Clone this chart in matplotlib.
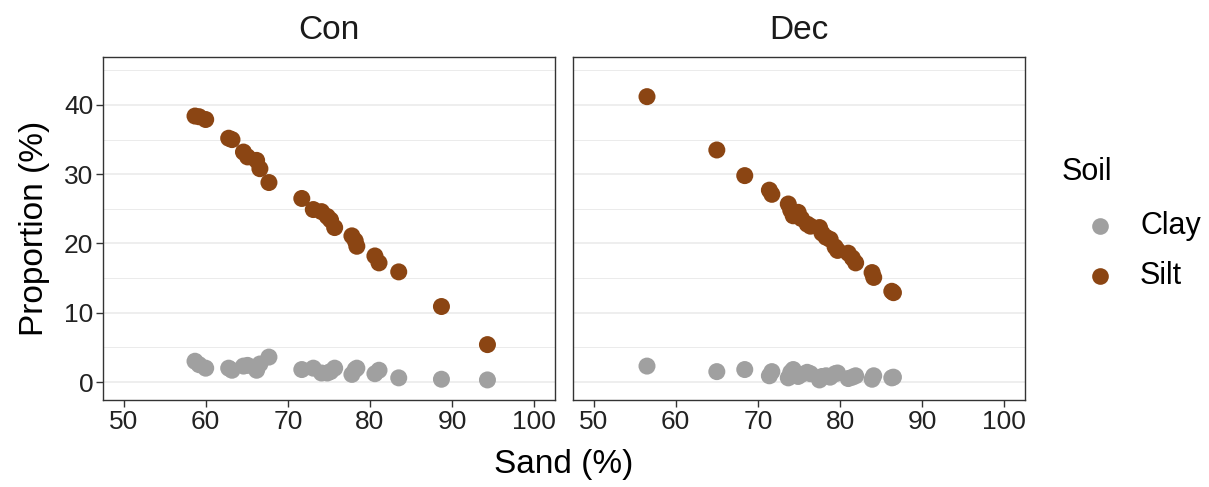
import matplotlib
matplotlib.use("Agg")
import matplotlib.pyplot as plt
from matplotlib.lines import Line2D

plt.rcParams['font.family'] = ['Liberation Sans', 'DejaVu Sans']

# sand, silt and clay content (%) per sample, by site
con_sand = [58.7, 59.2, 60.0, 62.8, 63.2, 64.6, 65.1, 66.2, 66.6, 67.7,
            71.7, 73.1, 74.1, 74.8, 75.2, 75.7, 77.8, 78.2, 78.4, 80.6,
            81.1, 83.5, 88.7, 94.3]
con_silt = [38.4, 38.3, 37.9, 35.2, 35.0, 33.2, 32.5, 32.0, 30.8, 28.8,
            26.5, 24.9, 24.6, 23.9, 23.4, 22.3, 21.1, 20.4, 19.6, 18.2,
            17.2, 15.9, 10.9, 5.4]
con_clay = [3.0, 2.5, 2.0, 2.0, 1.7, 2.3, 2.4, 1.7, 2.6, 3.6,
            1.8, 2.0, 1.3, 1.3, 1.5, 2.0, 1.1, 1.8, 2.0, 1.2,
            1.7, 0.6, 0.4, 0.3]

dec_sand = [56.5, 65.0, 68.4, 71.4, 71.7, 73.7, 74.0, 74.3, 74.9, 75.3,
            76.0, 76.4, 77.5, 77.8, 78.3, 78.8, 79.4, 79.7, 81.0, 81.5,
            81.9, 83.9, 84.1, 86.3, 86.5]
dec_silt = [41.2, 33.5, 29.8, 27.7, 27.1, 25.7, 24.8, 24.0, 24.5, 23.6,
            22.8, 22.5, 22.3, 21.5, 20.9, 20.6, 19.5, 19.0, 18.6, 17.9,
            17.2, 15.8, 15.1, 13.1, 12.9]
dec_clay = [2.3, 1.5, 1.8, 0.9, 1.5, 0.6, 1.4, 1.8, 0.8, 1.1,
            1.4, 1.2, 0.3, 0.8, 0.9, 0.7, 1.2, 1.3, 0.5, 0.7,
            0.9, 0.4, 0.9, 0.6, 0.7]

sites = ['Con', 'Dec']
site_data = {
    'Con': (con_sand, con_silt, con_clay),
    'Dec': (dec_sand, dec_silt, dec_clay),
}
soil_labels = ['Clay', 'Silt']
soil_colors = {'Clay': '#a0a0a0', 'Silt': '#8b4513'}

x_ticks = [50, 60, 70, 80, 90, 100]
y_ticks = [0, 10, 20, 30, 40]
y_minor = [5, 15, 25, 35, 45]

W, H = 1209, 487
fig = plt.figure(figsize=(W / 100, H / 100), dpi=100)
panel_w = 0.3737
panel_h = 0.704
lefts = [0.0852, 0.474]
bottom = 0.1786

marker_size = 150
axes = []
for i, site in enumerate(sites):
    ax = fig.add_axes([lefts[i], bottom, panel_w, panel_h])
    sand, silt, clay = site_data[site]
    ax.scatter(sand, clay, s=marker_size, color=soil_colors['Clay'],
               edgecolors='none', zorder=3)
    ax.scatter(sand, silt, s=marker_size, color=soil_colors['Silt'],
               edgecolors='none', zorder=3)

    ax.set_xlim(47.5, 102.5)
    ax.set_ylim(-2.6, 46.9)
    ax.set_xticks(x_ticks)
    ax.set_yticks(y_ticks)
    for v in y_ticks:
        ax.axhline(v, color='#ebebeb', lw=1.2, zorder=1)
    for v in y_minor:
        ax.axhline(v, color='#ebebeb', lw=0.7, zorder=1)

    for sp in ax.spines.values():
        sp.set_color('#333333')
        sp.set_linewidth(1.0)
    ax.tick_params(axis='both', color='#333333', length=5, width=1.0,
                   labelsize=19, labelcolor='#222222', pad=2)
    if i > 0:
        ax.tick_params(axis='y', labelleft=False, length=0)
    ax.set_title(site, fontsize=24, color='#1a1a1a', pad=13)
    axes.append(ax)

axes[0].set_ylabel('Proportion (%)', fontsize=24, labelpad=10)
fig.text((lefts[0] + lefts[1] + panel_w) / 2, 0.015, 'Sand (%)',
         ha='center', va='bottom', fontsize=24)

# legend drawn by hand in figure coordinates
fig.text(1062 / W, 1 - 172 / H, 'Soil', fontsize=22, ha='left', va='center')
for k, s in enumerate(soil_labels):
    y = 1 - (226 + 50 * k) / H
    fig.add_artist(Line2D([1100 / W], [y], transform=fig.transFigure,
                          marker='o', linestyle='none', markersize=12,
                          markerfacecolor=soil_colors[s],
                          markeredgecolor='none'))
    fig.text(1140 / W, y, s, fontsize=22, ha='left', va='center')

fig.savefig('out.png', dpi=100)
